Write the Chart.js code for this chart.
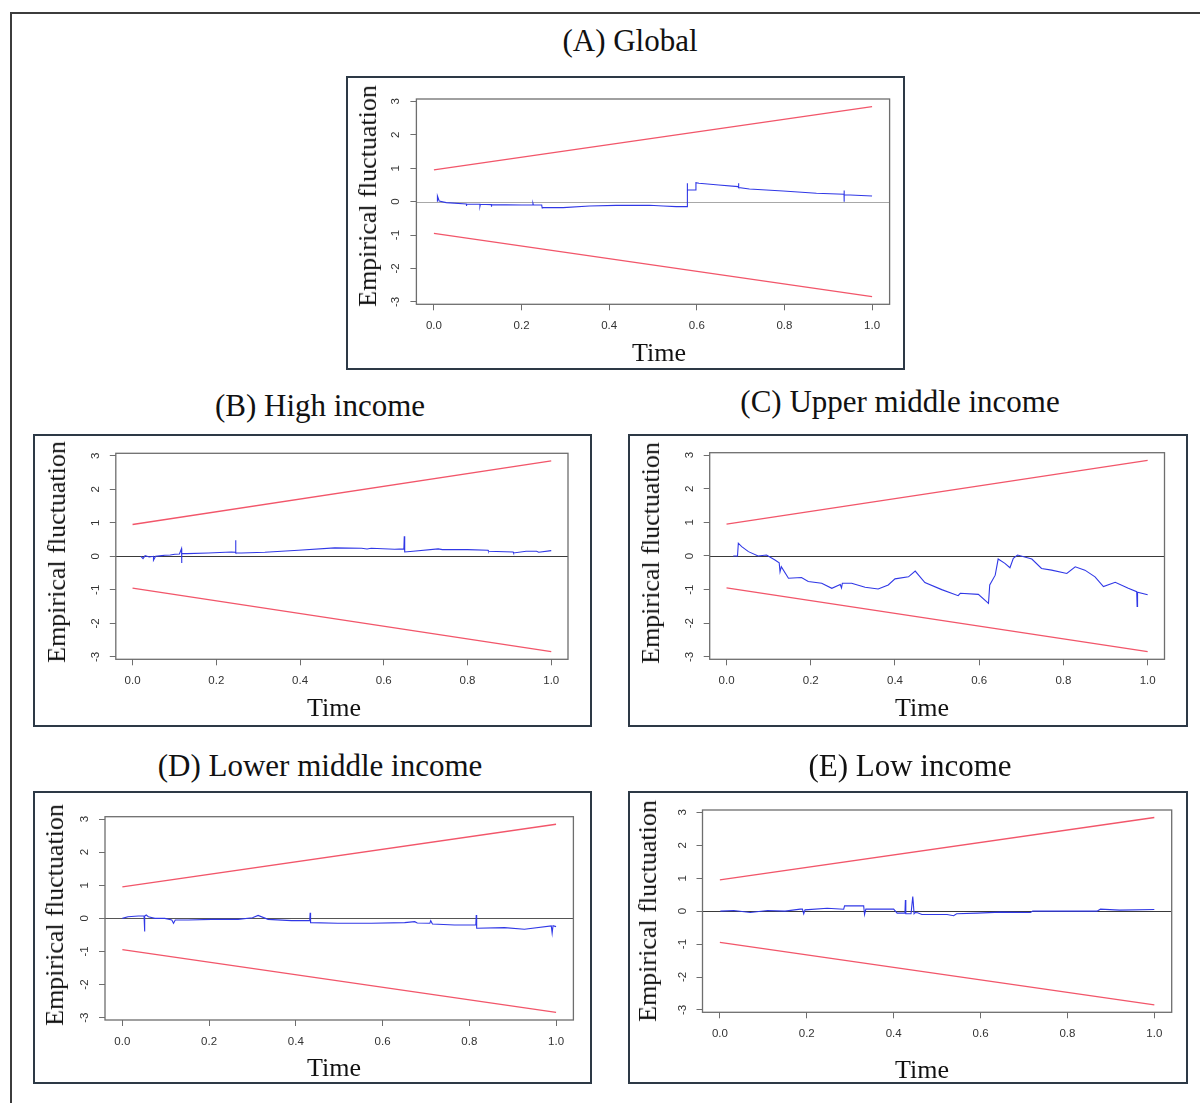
<!DOCTYPE html>
<html><head><meta charset="utf-8">
<script src="https://cdn.jsdelivr.net/npm/chart.js@4.4.1/dist/chart.umd.min.js"></script>
<style>
html,body{margin:0;padding:0;background:#fff}
body{width:1200px;height:1103px;position:relative;overflow:hidden}
.outer{position:absolute;left:10px;top:12px;width:1300px;height:1200px;border:2px solid #3c3c3c;box-sizing:border-box}
.frame{position:absolute;border:2px solid #2d3946;box-sizing:border-box}
canvas{position:absolute}
.txt{position:absolute;font-family:"Liberation Serif","DejaVu Serif",serif;color:#111;white-space:nowrap;transform:translate(-50%,-50%);line-height:1}
.ttl{font-size:31px}
.xl{font-size:26px}
.yl{font-size:26px;transform:translate(-50%,-50%) rotate(-90deg)}
</style>
</head><body>
<div class="outer"></div>
<script>
// ---- tick labels / axis values ----
const timeTicks = [0, 0.2, 0.4, 0.6, 0.8, 1.0];
const fluctTicks = [-3, -2, -1, 0, 1, 2, 3];

// ---- boundaries (OLS-CUSUM, alpha = 0.05) ----
const boundT = [0, 1];
const upperBound = [0.948, 2.844];
const lowerBound = [-0.948, -2.844];

// ---- (A) Global ----
const globalT = [0.008,0.008,0.012,0.028,0.074,0.074,0.075,0.105,0.105,0.106,0.131,0.131,0.132,0.2,0.226,0.226,0.227,0.246,0.247,0.248,0.248,0.295,0.355,0.416,0.492,0.523,0.553,0.578,0.578,0.579,0.58,0.597,0.598,0.605,0.65,0.694,0.695,0.696,0.72,0.797,0.873,0.936,0.936,0.936,0.937,0.95,1.0];
const globalV = [0.0,0.17,0.02,-0.03,-0.07,-0.13,-0.07,-0.08,-0.14,-0.08,-0.09,-0.15,-0.09,-0.1,-0.1,-0.05,-0.1,-0.1,-0.19,-0.17,-0.18,-0.18,-0.13,-0.11,-0.11,-0.13,-0.15,-0.15,0.55,0.35,0.35,0.35,0.57,0.55,0.5,0.45,0.55,0.42,0.38,0.32,0.25,0.22,0.33,0.0,0.2,0.2,0.17];

// ---- (B) High income ----
const highT = [0.02,0.025,0.03,0.04,0.05,0.05,0.055,0.07,0.077,0.09,0.101,0.112,0.117,0.117,0.118,0.13,0.181,0.236,0.245,0.246,0.247,0.26,0.316,0.396,0.483,0.547,0.56,0.57,0.626,0.648,0.649,0.65,0.67,0.73,0.74,0.8,0.849,0.85,0.909,0.91,0.94,0.965,0.97,1.0];
const highV = [0.0,-0.07,0.02,-0.02,0.0,-0.12,0.0,0.02,0.03,0.04,0.06,0.07,0.23,-0.2,0.08,0.08,0.1,0.13,0.12,0.48,0.1,0.1,0.12,0.18,0.25,0.24,0.22,0.24,0.21,0.22,0.6,0.13,0.15,0.22,0.2,0.2,0.18,0.15,0.13,0.1,0.15,0.15,0.12,0.17];

// ---- (C) Upper middle income ----
const upperMidT = [0.016,0.026,0.028,0.036,0.052,0.075,0.095,0.115,0.125,0.127,0.13,0.147,0.178,0.194,0.226,0.25,0.27,0.273,0.275,0.297,0.329,0.36,0.384,0.4,0.432,0.448,0.471,0.511,0.55,0.555,0.598,0.622,0.625,0.638,0.645,0.661,0.673,0.681,0.691,0.725,0.748,0.772,0.808,0.828,0.851,0.875,0.895,0.923,0.954,0.974,0.975,0.976,1.0];
const upperMidV = [0.0,0.0,0.38,0.28,0.13,0.0,0.03,-0.12,-0.2,-0.47,-0.32,-0.66,-0.64,-0.76,-0.81,-0.96,-0.85,-0.95,-0.81,-0.81,-0.93,-0.98,-0.86,-0.68,-0.62,-0.45,-0.79,-1.0,-1.18,-1.11,-1.14,-1.41,-0.86,-0.57,-0.09,-0.22,-0.35,-0.07,0.03,-0.09,-0.37,-0.42,-0.52,-0.32,-0.42,-0.62,-0.91,-0.78,-0.96,-1.06,-1.5,-1.08,-1.15];

// ---- (D) Lower middle income ----
const lowerMidT = [0.0,0.013,0.037,0.05,0.051,0.052,0.055,0.06,0.075,0.098,0.114,0.118,0.122,0.152,0.206,0.267,0.3,0.313,0.336,0.39,0.432,0.433,0.434,0.497,0.574,0.651,0.674,0.68,0.709,0.711,0.715,0.766,0.815,0.816,0.817,0.881,0.927,0.989,0.991,0.993,1.0];
const lowerMidV = [0.0,0.05,0.07,0.07,-0.4,0.07,0.1,0.05,0.0,0.0,-0.05,-0.15,-0.05,-0.05,-0.03,-0.03,0.02,0.09,-0.03,-0.07,-0.07,0.17,-0.13,-0.15,-0.15,-0.13,-0.1,-0.14,-0.15,-0.07,-0.17,-0.2,-0.2,0.1,-0.3,-0.28,-0.33,-0.23,-0.45,-0.22,-0.25];

// ---- (E) Low income ----
const lowT = [0.001,0.032,0.07,0.11,0.15,0.185,0.19,0.193,0.196,0.247,0.285,0.287,0.331,0.333,0.336,0.34,0.4,0.408,0.426,0.427,0.428,0.44,0.444,0.445,0.447,0.45,0.455,0.465,0.523,0.538,0.545,0.592,0.646,0.715,0.72,0.868,0.876,0.92,1.0];
const lowV = [0.0,0.02,-0.04,0.02,0.0,0.06,0.06,-0.08,0.04,0.09,0.06,0.16,0.16,-0.1,0.06,0.06,0.06,-0.06,-0.06,0.34,-0.08,-0.08,0.44,0.29,-0.08,-0.04,-0.05,-0.1,-0.1,-0.14,-0.08,-0.06,-0.03,-0.04,0.0,0.0,0.06,0.03,0.05];

const panelTitles = ['(A) Global','(B) High income','(C) Upper middle income','(D) Lower middle income','(E) Low income'];
const yTitle = 'Empirical fluctuation';
const xTitle = 'Time';

// ---- layout (page pixels) ----
const panels = [
  {title:panelTitles[0], t:globalT, v:globalV, frame:[346,76,905,370], box:[416.4,99,889.6,304.3], titleXY:[630,40], yl:[368,196], xl:[659,353], zero:'#a8a8a8'},
  {title:panelTitles[1], t:highT, v:highV, frame:[33,434,592,727], box:[115.8,453.3,568,659.3], titleXY:[320,405], yl:[57,552], xl:[334,708], zero:'#3a3a3a'},
  {title:panelTitles[2], t:upperMidT, v:upperMidV, frame:[628,434,1188,727], box:[709.7,452.7,1164.5,659.3], titleXY:[900,401], yl:[651,553], xl:[922,708], zero:'#3a3a3a'},
  {title:panelTitles[3], t:lowerMidT, v:lowerMidV, frame:[33,791,592,1084], box:[105,816.7,573.4,1020], titleXY:[320,765], yl:[55,915], xl:[334,1068], zero:'#555'},
  {title:panelTitles[4], t:lowT, v:lowV, frame:[628,791,1188,1084], box:[702.5,810,1171.7,1012.3], titleXY:[910,765], yl:[648,911], xl:[922,1070], zero:'#3a3a3a'}
];

const RED = '#f2566a';
const BLUE = '#3038e6';
const AXIS = '#6e6e6e';
const TICKFONT = {family:'"Liberation Sans", Arial, sans-serif', size:11.5};

const rPlot = {
  id:'rPlot',
  beforeDatasetsDraw(chart, args, opts){
    const {ctx, chartArea:a, scales:{y}} = chart;
    const py = Math.round(y.getPixelForValue(0)) + 0.5;
    ctx.save();
    ctx.strokeStyle = opts.zero; ctx.lineWidth = 1.2;
    ctx.beginPath(); ctx.moveTo(a.left, py); ctx.lineTo(a.right, py); ctx.stroke();
    ctx.restore();
  },
  afterDraw(chart){
    const {ctx, chartArea:a} = chart;
    ctx.save();
    ctx.strokeStyle = AXIS; ctx.lineWidth = 1.3;
    ctx.strokeRect(a.left, a.top, a.right - a.left, a.bottom - a.top);
    ctx.restore();
  }
};

function addText(cls, txt, x, y){
  const d = document.createElement('div');
  d.className = 'txt ' + cls; d.textContent = txt;
  d.style.left = x + 'px'; d.style.top = y + 'px';
  document.body.appendChild(d);
}

const pts = (ts, vs) => ts.map((t, i) => ({x:t, y:vs[i]}));

panels.forEach(p => {
  const [fl, ft, fr, fb] = p.frame;
  const [bl, bt, br, bb] = p.box;
  const fr_ = document.createElement('div');
  fr_.className = 'frame';
  Object.assign(fr_.style, {left:fl+'px', top:ft+'px', width:(fr-fl)+'px', height:(fb-ft)+'px'});
  document.body.appendChild(fr_);

  const cv = document.createElement('canvas');
  cv.width = fr - fl; cv.height = fb - ft;
  cv.style.left = fl + 'px'; cv.style.top = ft + 'px';
  document.body.appendChild(cv);

  new Chart(cv, {
    type:'line',
    data:{datasets:[
      {data:pts(boundT, upperBound), borderColor:RED, borderWidth:1.3, pointRadius:0, tension:0},
      {data:pts(boundT, lowerBound), borderColor:RED, borderWidth:1.3, pointRadius:0, tension:0},
      {data:pts(p.t, p.v), borderColor:BLUE, borderWidth:1.1, pointRadius:0, tension:0}
    ]},
    options:{
      responsive:false, animation:false, devicePixelRatio:1,
      layout:{padding:{left:0, top:bt-ft, right:fr-br, bottom:0}},
      plugins:{legend:{display:false}, tooltip:{enabled:false}, rPlot:{zero:p.zero}},
      scales:{
        x:{type:'linear', min:-0.04, max:1.04,
          afterBuildTicks:s => { s.ticks = timeTicks.map(v => ({value:v})); },
          afterFit:s => { s.height = fb - bb; },
          border:{display:false},
          grid:{drawOnChartArea:false, drawTicks:true, tickLength:6, color:AXIS, lineWidth:1},
          ticks:{font:TICKFONT, color:'#333', padding:9, minRotation:0, maxRotation:0, autoSkip:false,
                 callback:v => Number(v).toFixed(1)}
        },
        y:{type:'linear', min:-3.072, max:3.072,
          afterBuildTicks:s => { s.ticks = fluctTicks.map(v => ({value:v})); },
          afterFit:s => { s.width = bl - fl; },
          border:{display:false},
          grid:{drawOnChartArea:false, drawTicks:true, tickLength:6, color:AXIS, lineWidth:1},
          ticks:{font:TICKFONT, color:'#333', padding:9, minRotation:90, maxRotation:90, crossAlign:'center', autoSkip:false,
                 callback:v => String(v)}
        }
      }
    },
    plugins:[rPlot]
  });

  addText('ttl', p.title, p.titleXY[0], p.titleXY[1]);
  addText('yl', yTitle, p.yl[0], p.yl[1]);
  addText('xl', xTitle, p.xl[0], p.xl[1]);
});
</script>
</body></html>
